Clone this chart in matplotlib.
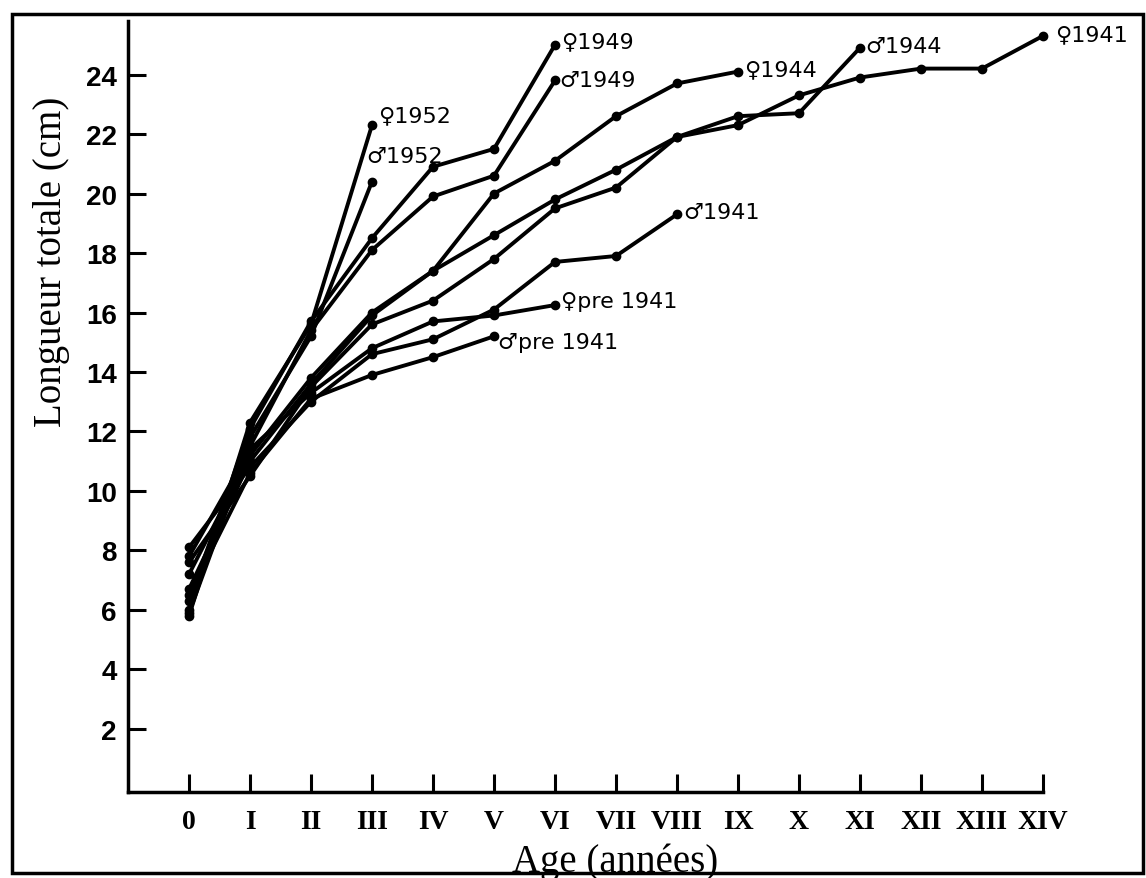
import matplotlib
matplotlib.use("Agg")
import matplotlib.pyplot as plt
from matplotlib.patches import Rectangle

# ---------------- data ----------------
age_labels = ["0", "I", "II", "III", "IV", "V", "VI", "VII", "VIII", "IX",
              "X", "XI", "XII", "XIII", "XIV"]
y_ticks = [2, 4, 6, 8, 10, 12, 14, 16, 18, 20, 22, 24]

f1952 = [5.8, 12.3, 15.6, 22.3]
m1952 = [6.0, 11.8, 15.2, 20.4]
f1949 = [6.3, 12.1, 15.7, 18.5, 20.9, 21.5, 25.0]
m1949 = [5.9, 11.5, 15.4, 18.1, 19.9, 20.6, 23.8]
f1944 = [7.2, 11.2, 13.8, 16.0, 17.4, 20.0, 21.1, 22.6, 23.7, 24.1]
m1944 = [6.7, 11.0, 13.6, 15.9, 17.4, 18.6, 19.8, 20.8, 21.9, 22.6, 22.7, 24.9]
f1941 = [7.6, 10.5, 13.5, 15.6, 16.4, 17.8, 19.5, 20.2, 21.9, 22.3, 23.3,
         23.9, 24.2, 24.2, 25.3]
m1941 = [8.1, 10.8, 13.0, 14.6, 15.1, 16.1, 17.7, 17.9, 19.3]
fpre1941 = [7.8, 11.4, 13.3, 14.8, 15.7, 15.9, 16.25]
mpre1941 = [6.5, 10.6, 13.1, 13.9, 14.5, 15.2]

series = [
    ("\u2640" + "1952", f1952, (6, 10)),
    ("\u2642" + "1952", m1952, (-6, 26)),
    ("\u2640" + "1949", f1949, (6, 4)),
    ("\u2642" + "1949", m1949, (4, 0)),
    ("\u2640" + "1944", f1944, (6, 2)),
    ("\u2642" + "1944", m1944, (5, 2)),
    ("\u2640" + "1941", f1941, (12, 2)),
    ("\u2642" + "1941", m1941, (6, 2)),
    ("\u2640" + "pre 1941", fpre1941, (6, 4)),
    ("\u2642" + "pre 1941", mpre1941, (4, -6)),
]

# ---------------- figure ----------------
W, H = 1146, 879
fig = plt.figure(figsize=(W / 100, H / 100), dpi=100)
fig.patch.set_facecolor("white")

ax = fig.add_axes([128 / W, 1 - 793 / H, (1043 - 128) / W, (793 - 22) / H])
ax.set_xlim(-1.0, 14.0)
ax.set_ylim(-0.12, 25.8)

for lab, vals, off in series:
    xs = list(range(len(vals)))
    ax.plot(xs, vals, color="black", lw=2.8, marker="o", ms=6,
            solid_joinstyle="round", clip_on=False, zorder=3)
    ax.annotate(lab, xy=(xs[-1], vals[-1]), xytext=off,
                textcoords="offset pixels", ha="left", va="center",
                fontsize=16, family="DejaVu Sans", color="black",
                annotation_clip=False)

for s in ["top", "right"]:
    ax.spines[s].set_visible(False)
for s in ["left", "bottom"]:
    ax.spines[s].set_linewidth(2.5)

ax.set_xticks(range(len(age_labels)))
ax.set_xticklabels(age_labels, family=["Liberation Serif", "DejaVu Serif"],
                   fontweight="bold", fontsize=20)
ax.set_yticks(y_ticks)
ax.set_yticklabels([str(v) for v in y_ticks],
                   family=["Liberation Sans Narrow", "Liberation Sans", "DejaVu Sans"],
                   fontweight="bold", fontsize=20)
ax.tick_params(axis="x", direction="in", length=13, width=2.2, pad=12)
ax.tick_params(axis="y", direction="in", length=13, width=2.2, pad=8)

fig.text(52 / W, 1 - 262 / H, "Longueur totale (cm)", rotation=90,
         ha="center", va="center", fontsize=28,
         family=["Liberation Serif", "DejaVu Serif"])
fig.text(615 / W, 1 - 872 / H, "Age (années)", ha="center", va="baseline",
         fontsize=28, family=["Liberation Serif", "DejaVu Serif"])

# outer frame of the scanned figure
fig.patches.append(Rectangle((12 / W, 1 - 874 / H), (1143 - 12) / W,
                             (874 - 15) / H, transform=fig.transFigure,
                             fill=False, lw=2.5, edgecolor="black"))

fig.savefig("out.png", dpi=100)
